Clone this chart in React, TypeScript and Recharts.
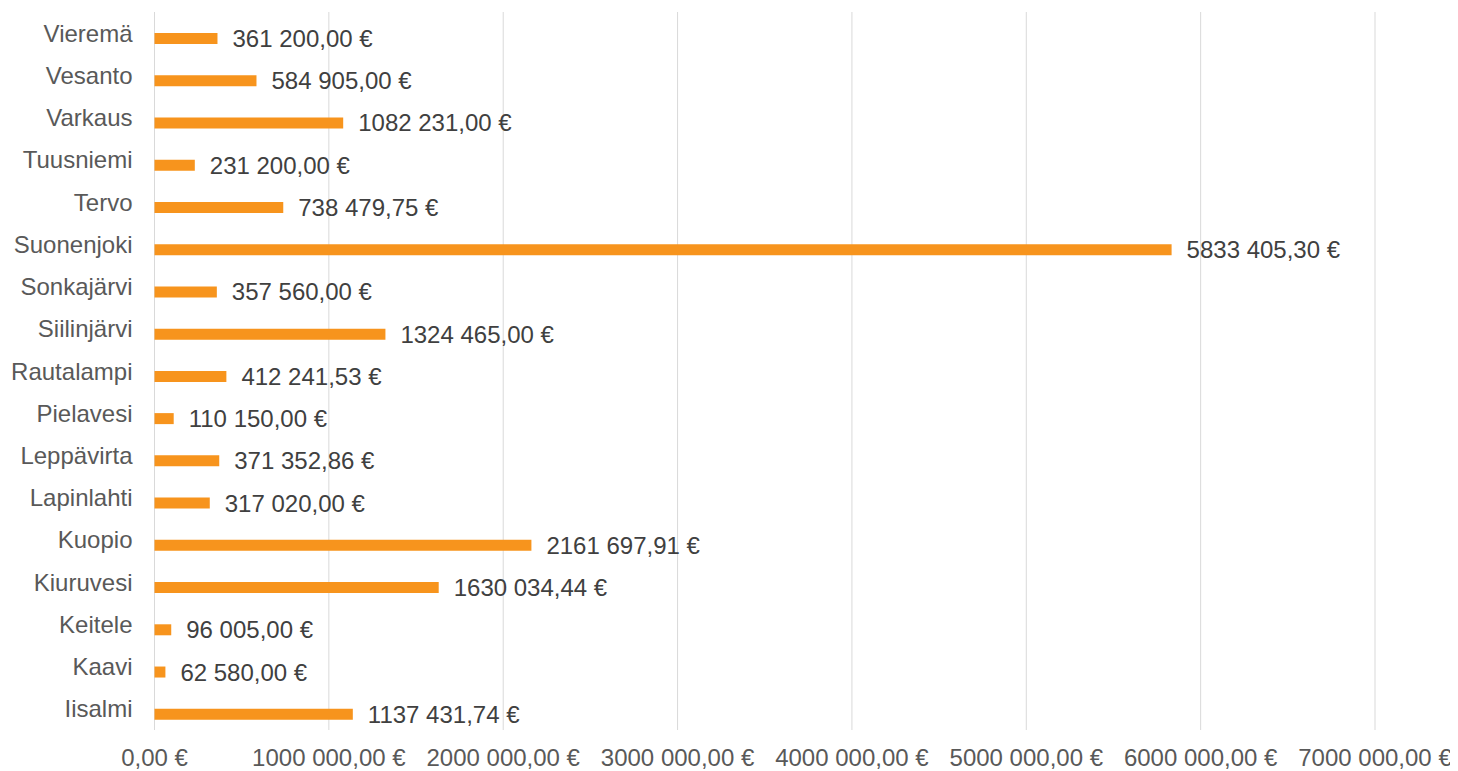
import React from "react";
import { BarChart, Bar, XAxis, YAxis, CartesianGrid, LabelList } from "recharts";

const categories = [
  "Vieremä", "Vesanto", "Varkaus", "Tuusniemi", "Tervo", "Suonenjoki", "Sonkajärvi",
  "Siilinjärvi", "Rautalampi", "Pielavesi", "Leppävirta", "Lapinlahti", "Kuopio",
  "Kiuruvesi", "Keitele", "Kaavi", "Iisalmi",
];
const amounts = [
  361200.0, 584905.0, 1082231.0, 231200.0, 738479.75, 5833405.3, 357560.0,
  1324465.0, 412241.53, 110150.0, 371352.86, 317020.0, 2161697.91,
  1630034.44, 96005.0, 62580.0, 1137431.74,
];
const xTicks = [0, 1000000, 2000000, 3000000, 4000000, 5000000, 6000000, 7000000];

const data = categories.map((name, i) => ({ name, value: amounts[i] }));

const fmt = (v: number) => {
  const fixed = Number(v).toFixed(2);
  const [intPart, dec] = fixed.split(".");
  let s = intPart;
  if (intPart.length > 3) s = intPart.slice(0, intPart.length - 3) + " " + intPart.slice(-3);
  return `${s},${dec} €`;
};

const FONT = "'Liberation Sans', Arial, sans-serif";
const FS = 24;

export default function App() {
  return (
    <div style={{ fontFamily: FONT }}>
      <BarChart
        width={1450}
        height={763}
        data={data}
        layout="vertical"
        margin={{ top: 4, right: 83, left: 0, bottom: 0 }}
        barSize={11}
        barGap={0}
      >
        <CartesianGrid horizontal={false} stroke="#D9D9D9" strokeWidth={1} />
        <XAxis
          type="number"
          domain={[0, 7000000]}
          ticks={xTicks}
          tickFormatter={fmt}
          axisLine={false}
          tickLine={false}
          tickSize={0}
          tickMargin={19}
          height={41}
          interval={0}
          tick={{ fill: "#595959", fontSize: FS, fontFamily: FONT }}
        />
        <YAxis
          type="category"
          dataKey="name"
          width={146.5}
          axisLine={false}
          tickLine={false}
          tickSize={0}
          tickMargin={22}
          interval={0}
          tick={{ fill: "#595959", fontSize: FS, fontFamily: FONT }}
        />
        <Bar dataKey="dummy" fill="none" isAnimationActive={false} />
        <Bar dataKey="value" fill="#F7941D" isAnimationActive={false}>
          <LabelList
            dataKey="value"
            position="right"
            offset={15}
            formatter={(v: any) => fmt(Number(v))}
            fill="#404040"
            fontSize={FS}
            fontFamily={FONT}
          />
        </Bar>
      </BarChart>
    </div>
  );
}
